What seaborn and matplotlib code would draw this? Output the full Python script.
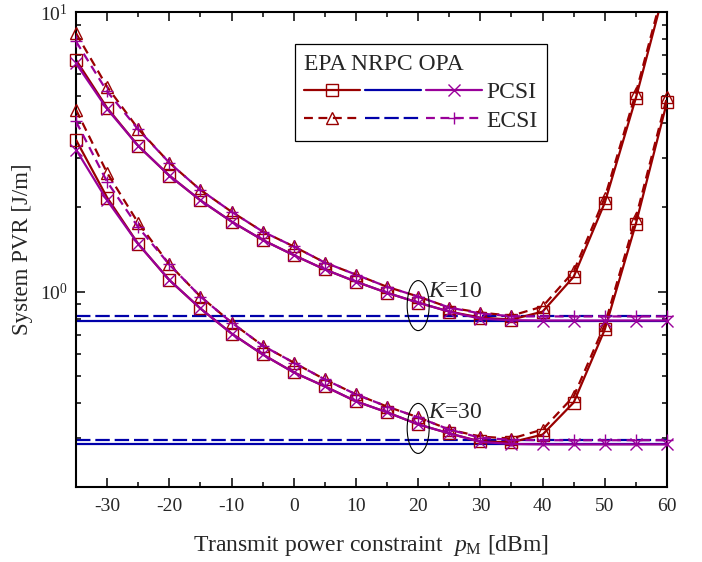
import matplotlib
matplotlib.use("Agg")
import matplotlib.pyplot as plt
import seaborn as sns
from matplotlib.patches import Ellipse
from matplotlib.transforms import ScaledTranslation
from matplotlib.legend_handler import HandlerTuple
from matplotlib.lines import Line2D
from matplotlib.ticker import MultipleLocator, LogLocator, NullFormatter

# ---------------- data ----------------
power_dbm = [-35, -30, -25, -20, -15, -10, -5, 0, 5, 10, 15, 20, 25, 30, 35, 40, 45, 50, 55, 60]

# K = 10
k10_epa_pcsi = [6.74, 4.54, 3.32, 2.60, 2.12, 1.78, 1.53, 1.35, 1.20, 1.085, 0.99, 0.913, 0.848, 0.807, 0.794, 0.848, 1.13, 2.08, 4.93, 13.0]
k10_epa_ecsi = [8.40, 5.40, 3.82, 2.89, 2.31, 1.93, 1.64, 1.45, 1.27, 1.15, 1.04, 0.96, 0.877, 0.841, 0.820, 0.884, 1.18, 2.17, 5.14, 13.5]
k10_opa_pcsi = [6.55, 4.50, 3.32, 2.60, 2.12, 1.78, 1.53, 1.35, 1.20, 1.085, 0.99, 0.913, 0.848, 0.800, 0.790, 0.788, 0.788, 0.788, 0.788, 0.788]
k10_opa_ecsi = [7.85, 5.20, 3.80, 2.89, 2.31, 1.93, 1.64, 1.45, 1.27, 1.15, 1.04, 0.96, 0.877, 0.835, 0.816, 0.815, 0.815, 0.815, 0.815, 0.815]
k10_nrpc_pcsi = [0.788] * 20
k10_nrpc_ecsi = [0.815] * 20

# K = 30
k30_epa_pcsi = [3.49, 2.17, 1.48, 1.10, 0.87, 0.708, 0.596, 0.514, 0.458, 0.405, 0.370, 0.335, 0.311, 0.291, 0.289, 0.308, 0.401, 0.732, 1.75, 4.77]
k30_epa_ecsi = [4.47, 2.66, 1.76, 1.25, 0.96, 0.775, 0.641, 0.557, 0.485, 0.429, 0.388, 0.355, 0.321, 0.303, 0.298, 0.321, 0.422, 0.762, 1.84, 4.97]
k30_opa_pcsi = [3.22, 2.12, 1.48, 1.10, 0.87, 0.708, 0.596, 0.514, 0.458, 0.405, 0.370, 0.335, 0.311, 0.290, 0.285, 0.284, 0.284, 0.284, 0.284, 0.284]
k30_opa_ecsi = [4.06, 2.47, 1.70, 1.25, 0.96, 0.775, 0.641, 0.557, 0.485, 0.429, 0.388, 0.355, 0.321, 0.300, 0.295, 0.294, 0.294, 0.294, 0.294, 0.294]
k30_nrpc_pcsi = [0.284] * 20
k30_nrpc_ecsi = [0.294] * 20

legend_title = "EPA NRPC OPA"
csi_labels = ["PCSI", "ECSI"]
k_labels = ["10", "30"]
k_annot_x = 20
k_annot_y = [0.891, 0.324]
k_text_y = [1.0, 0.37]

# ---------------- style ----------------
sns.set_style("ticks")
plt.rcParams.update({
    "font.family": ["Liberation Serif", "DejaVu Serif"],
    "mathtext.fontset": "custom",
    "mathtext.rm": "Liberation Serif",
    "mathtext.it": "Liberation Serif:italic",
    "mathtext.bf": "Liberation Serif:bold",
    "axes.unicode_minus": False,
    "axes.linewidth": 1.5,
    "axes.edgecolor": "black",
})

RED = "#990000"
BLUE = "#0000AA"
PURPLE = "#990099"
YMIN, YMAX = 0.2, 10.0
MS = 8

fig = plt.figure(figsize=(7.02, 5.62), dpi=100)
ax = fig.add_axes([76 / 702, 1 - 487 / 562, 591 / 702, 475 / 562])

dash_red = (0, (4, 2.5))
dash_blue = (0, (6.5, 2.2))

series = [
    # values, color, linestyle, marker
    (k10_nrpc_pcsi, BLUE, "-", None),
    (k10_nrpc_ecsi, BLUE, dash_blue, None),
    (k30_nrpc_pcsi, BLUE, "-", None),
    (k30_nrpc_ecsi, BLUE, dash_blue, None),
    (k10_epa_pcsi, RED, "-", "s"),
    (k10_epa_ecsi, RED, dash_red, "^"),
    (k30_epa_pcsi, RED, "-", "s"),
    (k30_epa_ecsi, RED, dash_red, "^"),
    (k10_opa_pcsi, PURPLE, "-", "x"),
    (k10_opa_ecsi, PURPLE, dash_red, "+"),
    (k30_opa_pcsi, PURPLE, "-", "x"),
    (k30_opa_ecsi, PURPLE, dash_red, "+"),
]

z = 2
for vals, col, ls, mk in series:
    sns.lineplot(x=power_dbm, y=vals, ax=ax, color=col, linestyle=ls, lw=1.6,
                 legend=False, zorder=z)
    z += 0.1
    if mk is not None:
        xs = [x for x, v in zip(power_dbm, vals) if YMIN <= v <= YMAX]
        ys = [v for v in vals if YMIN <= v <= YMAX]
        sns.lineplot(x=xs, y=ys, ax=ax, linestyle="", marker=mk, markersize=MS,
                     markerfacecolor="none", markeredgecolor=col,
                     markeredgewidth=1.0, color=col, legend=False, zorder=z)
        ax.lines[-1].set_clip_on(False)
        z += 0.1

# ---------------- axes ----------------
ax.set_yscale("log")
ax.set_xlim(-35, 60)
ax.set_ylim(YMIN, YMAX)
ax.xaxis.set_major_locator(MultipleLocator(10))
ax.xaxis.set_minor_locator(MultipleLocator(5))
ax.yaxis.set_major_locator(LogLocator(base=10))
ax.yaxis.set_minor_locator(LogLocator(base=10, subs=range(2, 10)))
ax.yaxis.set_minor_formatter(NullFormatter())
ax.tick_params(which="both", direction="in", top=True, right=True, width=1.3,
               labelsize=14)
ax.tick_params(which="major", length=6.5)
ax.tick_params(which="minor", length=3.6)
ax.tick_params(axis="x", pad=8)
ax.tick_params(axis="y", pad=6)
for s in ax.spines.values():
    s.set_linewidth(1.5)
    s.set_visible(True)

ax.set_xlabel(r"Transmit power constraint  $p_{\mathrm{M}}$ [dBm]", fontsize=17, labelpad=13)
ax.set_ylabel("System PVR [J/m]", fontsize=16.5, labelpad=5)

# ---------------- annotations ----------------
for yc, yt, kl in zip(k_annot_y, k_text_y, k_labels):
    tr = fig.dpi_scale_trans + ScaledTranslation(k_annot_x, yc, ax.transData)
    ax.add_patch(Ellipse((0, 0), width=0.22, height=0.50, transform=tr,
                         fill=False, edgecolor="black", lw=0.8, zorder=10,
                         clip_on=False))
    ax.text(k_annot_x + 1.6, yt, r"$K$=" + kl, fontsize=17, va="center",
            ha="left", zorder=10)

# ---------------- legend ----------------
def h(col, ls, mk):
    return Line2D([], [], color=col, linestyle=ls, lw=1.6, marker=mk,
                  markersize=MS, markerfacecolor="none", markeredgecolor=col,
                  markeredgewidth=1.0)

handles = [
    (h(RED, "-", "s"), h(BLUE, "-", None), h(PURPLE, "-", "x")),
    (h(RED, dash_red, "^"), h(BLUE, dash_blue, None), h(PURPLE, dash_red, "+")),
]
leg = ax.legend(handles=handles, labels=csi_labels,
                handler_map={tuple: HandlerTuple(ndivide=None, pad=0.25)},
                title=legend_title, title_fontsize=17, fontsize=17,
                handlelength=7.5, handletextpad=0.2, loc="upper left",
                bbox_to_anchor=(0.3706, 0.9325), borderaxespad=0,
                fancybox=False, edgecolor="black", framealpha=1,
                alignment="left", borderpad=0.4, labelspacing=0.3)
leg.get_frame().set_linewidth(0.9)
leg.set_zorder(20)

fig.savefig("out.png", dpi=100)
